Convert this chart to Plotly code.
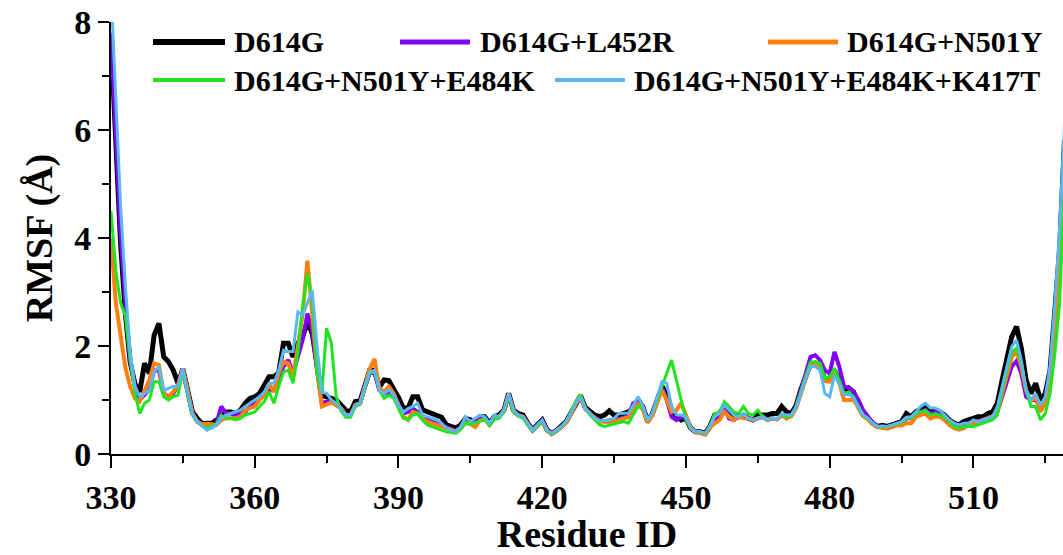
import plotly.graph_objects as go

residues = list(range(330, 530))

d614g = [7.7,5.7,3.9,2.6,1.7,1.3,1.15,1.68,1.49,2.2,
         2.42,1.8,1.71,1.55,1.31,1.58,1.12,0.78,0.66,0.56,
         0.57,0.57,0.63,0.69,0.78,0.78,0.75,0.81,0.94,1.03,
         1.06,1.12,1.28,1.43,1.43,1.5,2.05,2.05,1.8,2.05,
         2.17,2.45,2.23,1.68,1.09,1.06,1.03,1.0,0.91,0.81,
         0.78,0.97,0.98,1.28,1.55,1.55,1.24,1.37,1.36,1.2,
         1.05,0.85,0.85,1.06,1.06,0.82,0.78,0.75,0.72,0.68,
         0.54,0.51,0.48,0.54,0.66,0.63,0.6,0.69,0.69,0.57,
         0.69,0.72,0.81,1.12,0.81,0.75,0.72,0.57,0.45,0.54,
         0.63,0.45,0.38,0.44,0.51,0.6,0.76,0.94,1.08,0.86,
         0.78,0.72,0.69,0.72,0.8,0.72,0.72,0.74,0.78,0.85,
         1.0,0.88,0.6,0.75,1.0,1.25,1.12,0.81,0.7,0.63,
         0.66,0.48,0.41,0.41,0.38,0.51,0.72,0.75,0.88,0.8,
         0.72,0.69,0.72,0.66,0.63,0.72,0.72,0.72,0.75,0.75,
         0.88,0.78,0.75,0.9,1.2,1.45,1.66,1.68,1.62,1.37,
         1.4,1.55,1.37,1.12,1.22,1.15,0.88,0.72,0.66,0.57,
         0.51,0.53,0.51,0.54,0.57,0.6,0.75,0.69,0.78,0.84,
         0.88,0.81,0.81,0.78,0.72,0.63,0.57,0.54,0.6,0.63,
         0.66,0.69,0.69,0.75,0.78,0.94,1.37,1.8,2.17,2.36,
         1.96,1.37,1.12,1.31,1.0,1.12,1.55,2.66,3.8,5.8]

l452r = [7.8,5.9,4.1,2.8,1.7,1.25,1.0,1.1,1.2,1.55,
         1.55,1.12,1.06,1.12,1.28,1.58,1.12,0.75,0.6,0.54,
         0.48,0.5,0.56,0.88,0.75,0.75,0.72,0.75,0.78,0.88,
         0.94,1.06,1.12,1.18,1.18,1.37,1.62,1.74,1.49,1.8,
         2.11,2.6,2.29,1.55,0.94,0.97,0.98,0.91,0.85,0.72,
         0.72,0.91,0.94,1.25,1.5,1.5,1.18,1.12,1.15,1.1,
         0.92,0.75,0.78,0.84,0.78,0.69,0.63,0.6,0.57,0.54,
         0.5,0.46,0.42,0.5,0.62,0.58,0.6,0.66,0.66,0.55,
         0.68,0.69,0.8,1.1,0.8,0.72,0.69,0.56,0.44,0.53,
         0.62,0.44,0.38,0.44,0.5,0.6,0.75,0.94,1.06,0.84,
         0.74,0.66,0.62,0.6,0.6,0.6,0.65,0.68,0.7,0.94,
         0.98,0.88,0.62,0.74,0.98,1.22,1.0,0.69,0.63,0.69,
         0.66,0.48,0.41,0.41,0.38,0.5,0.63,0.72,0.88,0.66,
         0.63,0.69,0.69,0.66,0.63,0.66,0.69,0.63,0.66,0.64,
         0.72,0.7,0.72,0.88,1.18,1.45,1.8,1.83,1.74,1.55,
         1.49,1.89,1.62,1.25,1.22,1.15,1.0,0.81,0.68,0.58,
         0.51,0.5,0.5,0.52,0.55,0.56,0.66,0.66,0.75,0.78,
         0.82,0.75,0.77,0.74,0.7,0.62,0.55,0.52,0.54,0.57,
         0.57,0.6,0.63,0.66,0.69,0.78,1.06,1.37,1.62,1.72,
         1.49,1.06,1.0,1.0,0.88,1.0,1.55,2.5,3.6,5.6]

n501y = [4.0,2.8,2.2,1.6,1.25,1.03,0.97,1.18,1.37,1.68,
         1.65,1.12,1.06,1.15,1.28,1.58,1.12,0.75,0.6,0.55,
         0.56,0.55,0.54,0.63,0.66,0.66,0.66,0.69,0.81,0.85,
         0.88,1.0,1.09,1.3,1.15,1.5,1.71,1.68,1.43,1.99,
         2.6,3.58,2.66,1.6,0.88,0.91,0.95,0.91,0.85,0.72,
         0.72,0.91,0.94,1.25,1.58,1.76,1.22,1.15,1.25,1.12,
         0.88,0.69,0.63,0.78,0.75,0.66,0.6,0.57,0.55,0.52,
         0.48,0.45,0.42,0.48,0.57,0.56,0.5,0.62,0.64,0.54,
         0.66,0.69,0.8,1.1,0.8,0.72,0.69,0.56,0.44,0.52,
         0.6,0.44,0.37,0.43,0.5,0.58,0.74,0.93,1.06,0.84,
         0.74,0.66,0.6,0.6,0.6,0.6,0.63,0.66,0.68,0.8,
         0.92,0.82,0.58,0.72,0.95,1.18,1.0,0.78,0.81,0.94,
         0.72,0.48,0.41,0.38,0.36,0.48,0.57,0.63,0.78,0.69,
         0.63,0.69,0.66,0.66,0.63,0.66,0.69,0.63,0.66,0.64,
         0.72,0.66,0.7,0.85,1.14,1.42,1.66,1.66,1.6,1.35,
         1.34,1.53,1.32,1.0,1.0,1.0,0.86,0.7,0.64,0.55,
         0.5,0.48,0.47,0.5,0.53,0.53,0.57,0.57,0.69,0.72,
         0.75,0.66,0.69,0.69,0.63,0.54,0.48,0.45,0.48,0.54,
         0.56,0.59,0.63,0.66,0.69,0.78,1.12,1.49,1.8,1.9,
         1.62,1.18,0.98,1.06,0.78,0.94,1.43,2.36,3.4,5.4]

n501y_e484k = [4.5,3.4,2.8,2.55,1.75,1.12,0.75,0.94,1.0,1.34,
               1.34,1.06,1.0,1.06,1.09,1.55,1.1,0.72,0.6,0.52,
               0.48,0.51,0.55,0.72,0.66,0.66,0.63,0.66,0.72,0.75,
               0.78,0.88,0.97,1.15,0.94,1.25,1.52,1.55,1.31,1.86,
               2.73,3.34,2.85,1.5,1.12,2.33,2.05,1.06,0.8,0.68,
               0.68,0.88,0.92,1.22,1.5,1.52,1.18,1.03,1.09,1.03,
               0.85,0.66,0.63,0.72,0.75,0.63,0.54,0.51,0.48,0.44,
               0.41,0.4,0.38,0.46,0.58,0.55,0.58,0.62,0.64,0.53,
               0.64,0.66,0.78,1.08,0.78,0.7,0.66,0.54,0.42,0.52,
               0.6,0.43,0.37,0.43,0.5,0.6,0.77,0.97,1.1,0.85,
               0.72,0.62,0.54,0.51,0.53,0.55,0.58,0.6,0.57,0.72,
               0.88,0.86,0.62,0.76,1.0,1.25,1.49,1.74,1.37,1.0,
               0.63,0.48,0.41,0.41,0.38,0.52,0.75,0.77,0.97,0.88,
               0.78,0.75,0.88,0.75,0.72,0.81,0.7,0.63,0.66,0.65,
               0.74,0.68,0.72,0.88,1.18,1.45,1.7,1.71,1.68,1.4,
               1.43,1.59,1.37,1.12,1.15,1.06,0.88,0.72,0.66,0.57,
               0.51,0.5,0.5,0.53,0.56,0.58,0.66,0.66,0.75,0.78,
               0.81,0.72,0.75,0.72,0.68,0.6,0.51,0.48,0.51,0.51,
               0.51,0.54,0.57,0.6,0.63,0.72,1.18,1.55,1.89,1.96,
               1.68,1.18,0.88,0.88,0.63,0.75,1.12,1.86,2.8,5.0]

n501y_e484k_k417t = [8.6,6.7,4.6,3.1,1.9,1.25,1.06,1.12,1.18,1.52,
                     1.62,1.18,1.22,1.25,1.25,1.58,1.12,0.75,0.6,0.52,
                     0.44,0.48,0.54,0.66,0.72,0.75,0.78,0.81,0.88,0.94,
                     1.0,1.06,1.15,1.31,1.31,1.55,1.92,1.9,1.9,2.63,
                     2.57,2.79,3.03,1.99,1.15,1.12,1.0,0.94,0.85,0.72,
                     0.72,0.91,0.94,1.25,1.52,1.55,1.18,1.12,1.19,1.1,
                     0.9,0.78,0.84,0.88,0.94,0.72,0.69,0.66,0.63,0.57,
                     0.48,0.44,0.41,0.51,0.69,0.6,0.66,0.72,0.69,0.57,
                     0.72,0.69,0.81,1.12,0.81,0.72,0.69,0.57,0.44,0.54,
                     0.63,0.44,0.38,0.44,0.51,0.6,0.75,0.94,1.06,0.84,
                     0.74,0.66,0.62,0.62,0.64,0.66,0.75,0.75,0.76,0.9,
                     1.06,0.9,0.62,0.76,1.03,1.34,1.31,0.88,0.72,0.72,
                     0.69,0.48,0.41,0.41,0.38,0.51,0.69,0.75,0.91,0.81,
                     0.72,0.69,0.75,0.66,0.63,0.66,0.69,0.63,0.66,0.65,
                     0.74,0.72,0.72,0.86,1.15,1.4,1.62,1.62,1.55,1.12,
                     1.06,1.46,1.3,1.1,1.1,1.04,0.86,0.72,0.66,0.57,
                     0.51,0.52,0.51,0.54,0.57,0.6,0.68,0.69,0.78,0.88,
                     0.94,0.85,0.85,0.81,0.72,0.63,0.57,0.54,0.57,0.57,
                     0.63,0.6,0.63,0.66,0.69,0.88,1.25,1.62,1.99,2.11,
                     1.74,1.18,1.0,1.12,0.9,1.06,1.62,2.79,4.2,6.1]

series_names = ["D614G", "D614G+L452R", "D614G+N501Y",
                "D614G+N501Y+E484K", "D614G+N501Y+E484K+K417T"]
series_values = [d614g, l452r, n501y, n501y_e484k, n501y_e484k_k417t]
series_colors = ["#000000", "#8000FF", "#FF7F0E", "#1EE61E", "#5AB8F0"]
series_widths = [5, 4, 4, 3, 3]

x_ticks = [330, 360, 390, 420, 450, 480, 510]
y_ticks = [0, 2, 4, 6, 8]

FONT = "Liberation Serif"

fig = go.Figure()
for name, vals, col, w in zip(series_names, series_values, series_colors, series_widths):
    fig.add_trace(go.Scatter(x=residues, y=vals, mode="lines", name=name,
                             line=dict(color=col, width=w), showlegend=False))

# manual legend (two rows)
legend_rows = [
    [(0, 153, 225, 232), (1, 400, 470, 478), (2, 768, 838, 845)],
    [(3, 153, 225, 232), (4, 555, 625, 632)],
]
row_y_px = [42, 80]
W0, W1 = 111, 1063
H0, H1 = 22, 454
def px2paper_x(px):
    return (px - W0) / (W1 - W0)
def px2paper_y(py):
    return (H1 - py) / (H1 - H0)

for row, ypx in zip(legend_rows, row_y_px):
    for idx, x0, x1, xt in row:
        yp = px2paper_y(ypx)
        fig.add_shape(type="line", xref="paper", yref="paper",
                      x0=px2paper_x(x0), x1=px2paper_x(x1), y0=yp, y1=yp,
                      line=dict(color=series_colors[idx], width=series_widths[idx] + 1))
        fig.add_annotation(xref="paper", yref="paper", x=px2paper_x(xt), y=yp,
                           text=series_names[idx], showarrow=False,
                           xanchor="left", yanchor="middle",
                           font=dict(family=FONT, size=30, color="black", weight="bold"))

fig.update_layout(
    width=1063, height=555,
    margin=dict(l=111, r=0, t=22, b=101, autoexpand=False),
    paper_bgcolor="white", plot_bgcolor="white",
    font=dict(family=FONT, color="black"),
)
fig.update_xaxes(
    range=[330, 528.7], tickvals=x_ticks, ticktext=[str(t) for t in x_ticks],
    automargin=False,
    showgrid=False, zeroline=False, showline=True, linecolor="black", linewidth=2,
    ticks="outside", ticklen=12, tickwidth=2, tickcolor="black",
    minor=dict(dtick=15, tick0=330, ticks="outside", ticklen=7, tickwidth=2, tickcolor="black"),
    tickfont=dict(family=FONT, size=34, weight="bold"),
    title=dict(text="Residue ID", font=dict(family=FONT, size=38, weight="bold"), standoff=8),
)
fig.update_yaxes(
    range=[0, 8], tickvals=y_ticks, ticktext=[str(t) for t in y_ticks],
    automargin=False,
    showgrid=False, zeroline=False, showline=True, linecolor="black", linewidth=2,
    ticks="outside", ticklen=11, tickwidth=2, tickcolor="black",
    minor=dict(dtick=1, tick0=0, ticks="outside", ticklen=7, tickwidth=2, tickcolor="black"),
    tickfont=dict(family=FONT, size=34, weight="bold"),
    title=dict(text="RMSF (Å)", font=dict(family=FONT, size=38, weight="bold"), standoff=10),
)

fig.write_html("out.html", config={"displayModeBar": False},
               post_script="document.body.style.margin='0px';document.body.style.overflow='hidden';")
